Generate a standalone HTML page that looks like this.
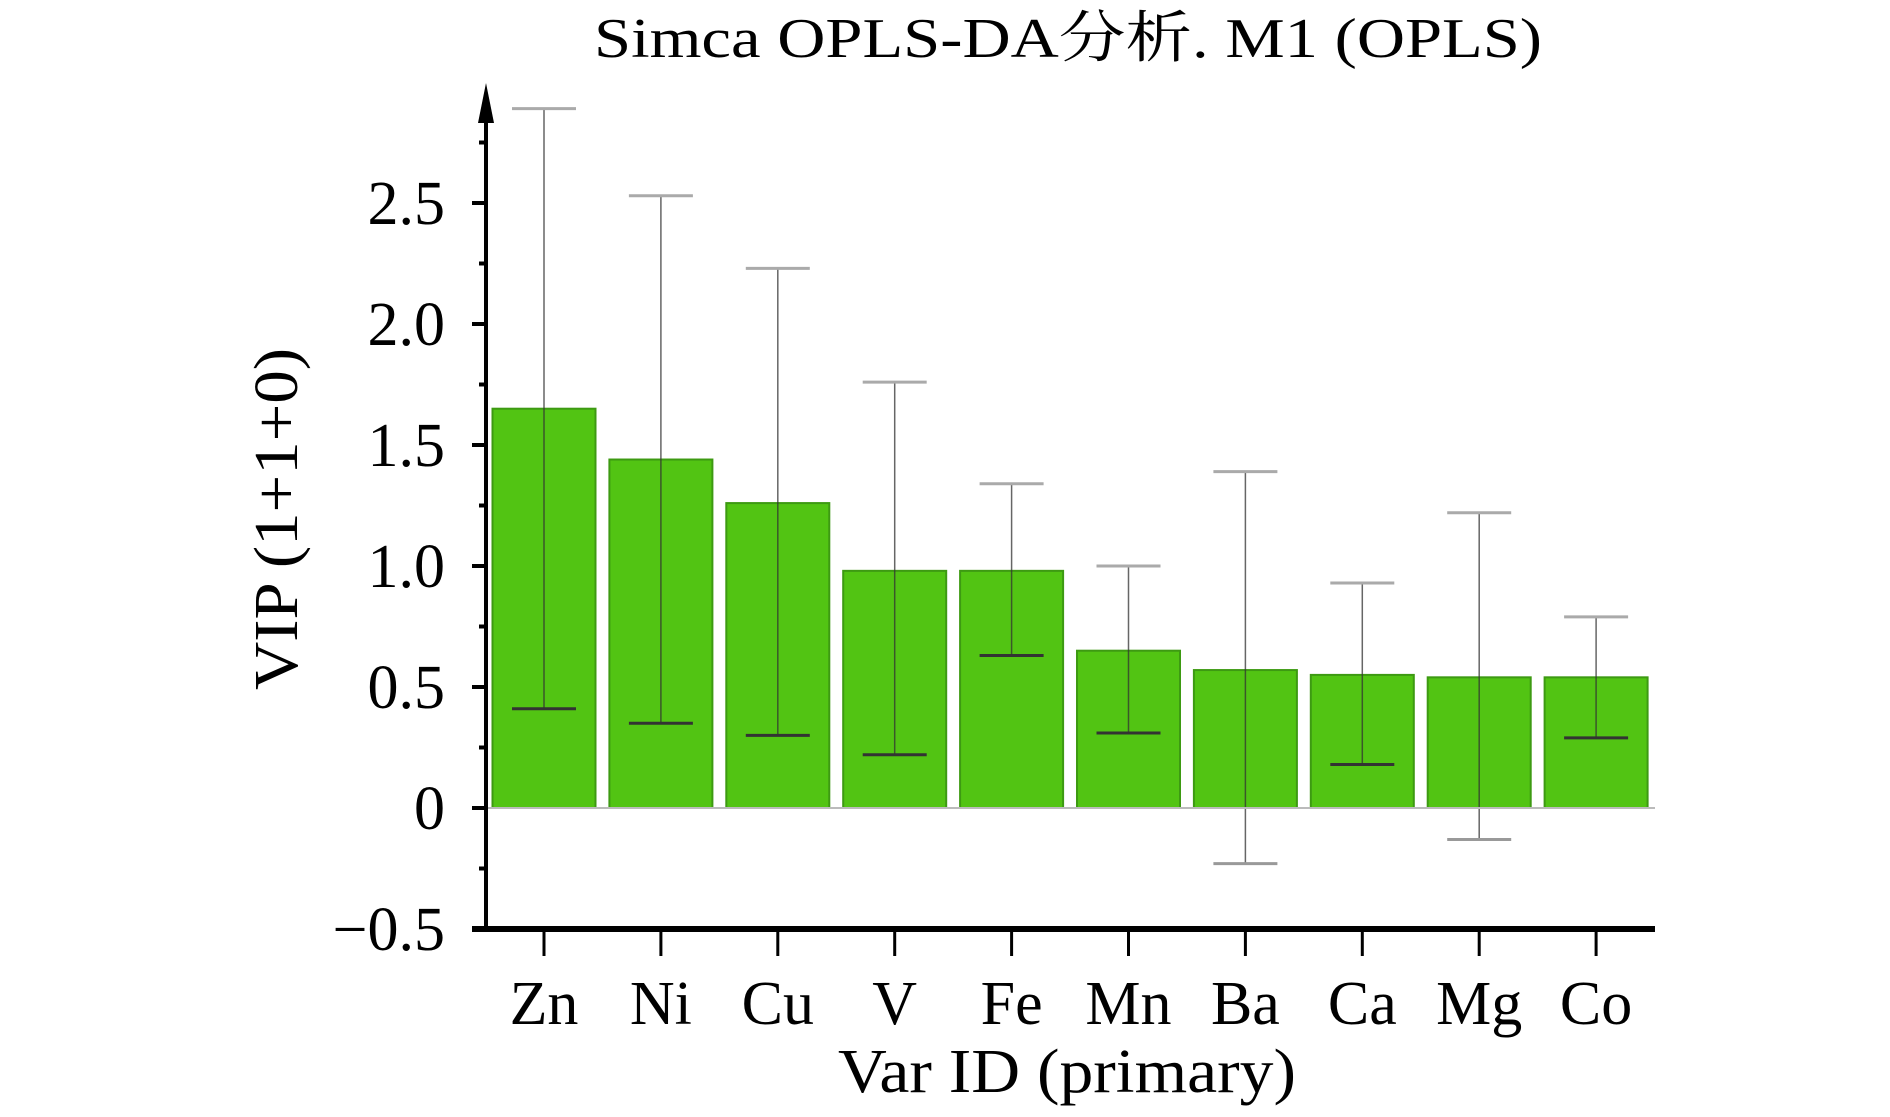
<!DOCTYPE html>
<html><head><meta charset="utf-8"><style>
html,body{margin:0;padding:0;background:#fff;}
svg{display:block;font-family:"Liberation Serif","Noto Serif CJK SC","Noto Sans CJK SC",serif;}
</style></head><body>
<svg id="chart" width="1890" height="1117" viewBox="0 0 1890 1117" xmlns="http://www.w3.org/2000/svg">
<text x="1068" y="57" font-size="56" text-anchor="middle" textLength="948" lengthAdjust="spacingAndGlyphs">Simca OPLS-DA分析. M1 (OPLS)</text>
<text transform="translate(297,519) rotate(-90)" font-size="62" text-anchor="middle" textLength="342" lengthAdjust="spacingAndGlyphs">VIP (1+1+0)</text>
<text x="1067" y="1092" font-size="62" text-anchor="middle" textLength="458" lengthAdjust="spacingAndGlyphs">Var ID (primary)</text>
<g id="bars"></g>
<g id="errs"></g>
<g id="axes"></g>
</svg>
<script>
const categories = ["Zn","Ni","Cu","V","Fe","Mn","Ba","Ca","Mg","Co"];
const vipValues = [1.65,1.44,1.26,0.98,0.98,0.65,0.57,0.55,0.54,0.54];
const errUpper = [2.89,2.53,2.23,1.76,1.34,1.00,1.39,0.93,1.22,0.79];
const errLower = [0.41,0.35,0.30,0.22,0.63,0.31,-0.23,0.18,-0.13,0.29];
const yTicks = [-0.5,0,0.5,1.0,1.5,2.0,2.5];
const yTickLabels = ["\u22120.5","0","0.5","1.0","1.5","2.0","2.5"];
const yMinorTicks = [-0.25,0.25,0.75,1.25,1.75,2.25,2.75];

const NS="http://www.w3.org/2000/svg";
function y(v){return 808 - v*242;}
function x(i){return 544 + i*116.9;}
function mk(tag,attrs,parent){const e=document.createElementNS(NS,tag);for(const k in attrs)e.setAttribute(k,attrs[k]);parent.appendChild(e);return e;}
const bars=document.getElementById('bars'), errs=document.getElementById('errs'), axes=document.getElementById('axes');

categories.forEach((c,i)=>{
  const cx=x(i), bw=103;
  const r=mk('rect',{x:cx-bw/2,y:y(vipValues[i]),width:bw,height:y(0)-y(vipValues[i]),fill:'#52c413',stroke:'#3d9a12','stroke-width':2},bars);
  
  
  const l=mk('line',{x1:cx,x2:cx,y1:y(errUpper[i]),y2:y(errLower[i]),stroke:'#333','stroke-width':1.5,'stroke-opacity':0.75},errs);
  
  
  const topAbove = errUpper[i]>vipValues[i];
  const cu=mk('line',{x1:cx-32,x2:cx+32,y1:y(errUpper[i]),y2:y(errUpper[i]),stroke:topAbove?'#aaa':'#333','stroke-width':3},errs);
  
  
  const low=errLower[i];
  const cl=mk('line',{x1:cx-32,x2:cx+32,y1:y(low),y2:y(low),stroke:(low<0)?'#999':'#333','stroke-width':3},errs);
  
  
  const t=mk('line',{x1:cx,x2:cx,y1:930,y2:956,stroke:'#000','stroke-width':3},axes);
  
  
  const lb=mk('text',{x:cx,y:1024,'font-size':62,'text-anchor':'middle'},axes);
  lb.textContent=c;
  
  
});
const z=mk('line',{x1:486,x2:1655,y1:y(0),y2:y(0),stroke:'#bbb','stroke-width':2},axes);


const ya=mk('line',{x1:486,x2:486,y1:100,y2:931,stroke:'#000','stroke-width':4},axes);


const ar=mk('polygon',{points:'486,83 478,123 494,123',fill:'#000'},axes);


const xa=mk('line',{x1:472,x2:1655,y1:929,y2:929,stroke:'#000','stroke-width':6},axes);


yTicks.forEach((v,i)=>{
  if(v>-0.5){
    const t=mk('line',{x1:472,x2:486,y1:y(v),y2:y(v),stroke:'#000','stroke-width':4},axes);
    
    
  }
  const lb=mk('text',{x:445,y:y(v)+21,'font-size':62,'text-anchor':'end'},axes);
  lb.textContent=yTickLabels[i];
  
  
});
yMinorTicks.forEach(v=>{
  const t=mk('line',{x1:479,x2:486,y1:y(v),y2:y(v),stroke:'#000','stroke-width':4},axes);
  
  
});
</script>
</body></html>
